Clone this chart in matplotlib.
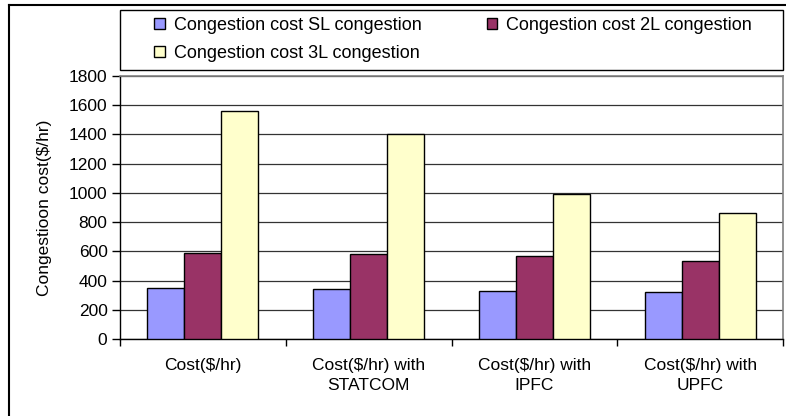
import numpy as np
import matplotlib
matplotlib.use('Agg')
import matplotlib.pyplot as plt
from matplotlib.lines import Line2D
from matplotlib.patches import Rectangle

plt.rcParams['font.family'] = ['Liberation Sans', 'DejaVu Sans']

categories = ['Cost($/hr)', 'Cost($/hr) with\nSTATCOM', 'Cost($/hr) with\nIPFC', 'Cost($/hr) with\nUPFC']
series_names = ['Congestion cost SL congestion', 'Congestion cost 2L congestion', 'Congestion cost 3L congestion']
sl_values = [350, 340, 330, 320]
l2_values = [590, 580, 565, 535]
l3_values = [1560, 1405, 990, 865]
colors = ['#9999FF', '#993366', '#FFFFCC']
yticks = [0, 200, 400, 600, 800, 1000, 1200, 1400, 1600, 1800]

fs = 12.5
W, H = 786, 416

fig = plt.figure(figsize=(7.86, 4.16), dpi=100)
ax = fig.add_axes([120/W, 1-339/H, 663/W, 263/H])

x = np.arange(len(categories))
w = 0.223
bars = []
for i, vals in enumerate([sl_values, l2_values, l3_values]):
    b = ax.bar(x + (i-1)*w, vals, w, color=colors[i], edgecolor='black', linewidth=1.0, zorder=3,
               label=series_names[i])
    bars.append(b)

ax.set_xlim(-0.5, 3.5)
ax.set_ylim(0, 1800)
ax.set_yticks(yticks)
ax.yaxis.grid(True, color='#333333', linewidth=0.9, zorder=0)
ax.set_axisbelow(True)

ax.set_xticks(x)
ax.set_xticklabels(categories, fontsize=fs, linespacing=1.4)
ax.set_xticks(np.arange(-0.5, 4.0, 1.0), minor=True)
ax.tick_params(axis='x', which='major', length=0, pad=14)
ax.tick_params(axis='x', which='minor', length=5, width=1, color='black', direction='out')
ax.tick_params(axis='y', length=6, width=1, labelsize=fs, pad=3)

for s in ['top', 'right']:
    ax.spines[s].set_color('#808080')
    ax.spines[s].set_linewidth(1.2)
for s in ['left', 'bottom']:
    ax.spines[s].set_color('black')
    ax.spines[s].set_linewidth(1.0)

ax.set_ylabel('Congestioon cost($/hr)', fontsize=fs, labelpad=12)

# legend box
fig.add_artist(Rectangle((120/W, 1-70/H), 663/W, 60/H, transform=fig.transFigure,
                         facecolor='white', edgecolor='black', linewidth=1.0))
handles = [bars[0], bars[2], bars[1]]
labels = [series_names[0], series_names[2], series_names[1]]
leg = fig.legend(handles, labels, loc='upper left', ncol=2,
                 bbox_to_anchor=(154/W, 1-17/H), borderaxespad=0,
                 fontsize=13, frameon=False,
                 handlelength=0.6, handleheight=0.6, handletextpad=0.5,
                 labelspacing=0.6, borderpad=0, columnspacing=3.6)

# outer chart border (left and top visible)
fig.add_artist(Line2D([9/W, 9/W], [0, 1-5/H], transform=fig.transFigure, color='black', lw=1.5))
fig.add_artist(Line2D([9/W, 1], [1-5/H, 1-5/H], transform=fig.transFigure, color='black', lw=1.5))

fig.savefig('out.png', dpi=100)
